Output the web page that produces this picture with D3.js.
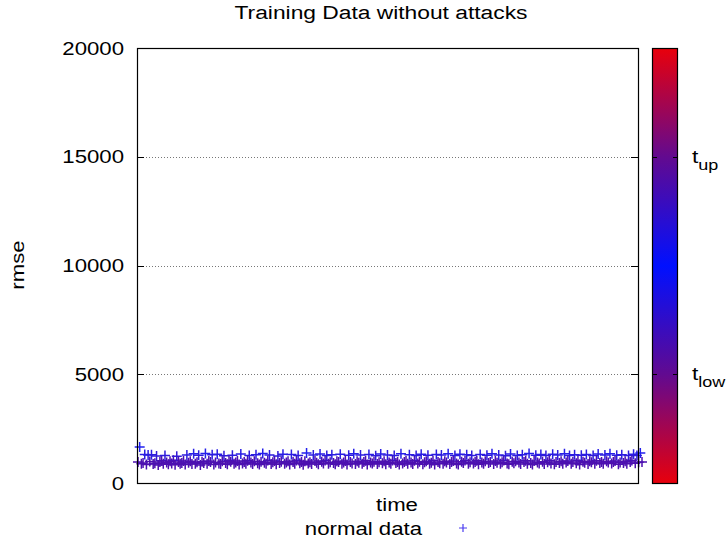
<!DOCTYPE html>
<html>
<head>
<meta charset="utf-8">
<script src="https://cdn.jsdelivr.net/npm/d3@7"></script>
<style>
  body { margin: 0; background: #fff; }
  text { font-family: "Liberation Sans", Arial, sans-serif; fill: #000; }
</style>
</head>
<body>
<div id="chart"></div>
<script>
// rmse values of the training data (one per time step)
var rmse = [
    960, 1650, 880, 920, 1310, 850, 1290, 990, 1300, 870, 910, 1240, 830, 960, 1020, 880, 1270, 940, 860, 1000,
    900, 1050, 840, 1230, 970, 880, 920, 1010, 850, 1290, 930, 1000, 870, 1340, 890, 950, 1280, 830, 980, 920,
    1360, 880, 1010, 960, 1300, 850, 940, 1320, 900, 870, 1000, 1250, 920, 860, 1030, 980, 1280, 880, 940, 1010,
    850, 1330, 900, 960, 880, 1020, 1270, 940, 870, 1000, 1300, 910, 850, 980, 1360, 930, 890, 1040, 1290, 870,
    950, 1010, 860, 1240, 920, 980, 1320, 890, 940, 1000, 850, 1310, 960, 880, 1030, 1270, 910, 970, 840, 1000,
    1380, 900, 950, 870, 1290, 1010, 930, 860, 1330, 980, 900, 1040, 1260, 880, 950, 1300, 920, 860, 1000, 970,
    1320, 890, 940, 1010, 850, 1280, 960, 900, 1350, 870, 1000, 930, 1290, 880, 960, 1020, 850, 1310, 940, 900,
    980, 1250, 870, 950, 1330, 910, 1000, 860, 1290, 940, 890, 1030, 1270, 920, 970, 850, 1340, 900, 960, 1010,
    880, 1300, 940, 870, 1020, 1260, 900, 980, 1320, 860, 950, 1000, 1280, 890, 930, 1040, 850, 1310, 970, 910,
    1290, 880, 1000, 940, 1350, 870, 960, 1010, 1270, 900, 850, 1320, 980, 920, 1030, 1300, 880, 950, 1260, 900,
    970, 1020, 860, 1310, 940, 890, 1000, 1280, 920, 960, 1340, 870, 1010, 930, 1290, 880, 950, 1030, 1250, 900,
    860, 1330, 980, 910, 1000, 1270, 940, 870, 1300, 960, 1020, 890, 1360, 920, 850, 1010, 1280, 940, 900, 1310,
    980, 870, 1260, 950, 1030, 900, 1320, 860, 970, 1290, 920, 1000, 880, 1340, 940, 1010, 1270, 890, 960, 1300,
    910, 1040, 850, 1280, 980, 930, 1310, 870, 1000, 950, 1260, 890, 1020, 1330, 920, 960, 880, 1290, 1000, 940,
    1350, 900, 970, 1010, 1280, 860, 940, 1300, 920, 1000, 880, 1270, 960, 1030, 1320, 910, 1260, 950, 1380, 960
];

var yTicks = [0, 5000, 10000, 15000, 20000];
var gridTicks = [5000, 10000, 15000];
var paletteStops = [0, 5000, 10000, 15000, 20000];
var thresholds = [
    {name: "t", sub: "up", value: 15000},
    {name: "t", sub: "low", value: 5000}
];

var width = 726;
var height = 545;
var plotLeft = 137, plotRight = 638, plotTop = 48, plotBottom = 483;
var sx = 1.2;   // text in the picture is drawn a bit wide

var svg = d3.select("#chart")
    .append("svg")
    .attr("width", width)
    .attr("height", height);

var x = d3.scaleLinear()
    .domain([0, rmse.length - 1])
    .range([plotLeft + 1, plotRight + 4]);

var y = d3.scaleLinear()
    .domain([0, 20000])
    .range([plotBottom, plotTop]);

var pointColor = d3.scaleLinear()
    .domain([1000, 1400])
    .range(["#4c10b0", "#2020f0"])
    .clamp(true);

var palette = d3.scaleLinear()
    .domain(paletteStops)
    .range(["#e8000c", "#620a90", "#0010ff", "#620a90", "#e8000c"]);

function label(txt, px, py, anchor, rot, size) {
    return svg.append("text")
        .attr("transform", "translate(" + px + "," + py + ")" + (rot ? " rotate(" + rot + ")" : "") + " scale(" + sx + ",1)")
        .attr("text-anchor", anchor)
        .attr("font-size", (size || 18.5) + "px")
        .text(txt);
}

// title
label("Training Data without attacks", 381, 19, "middle", 0, 19);

// grid
svg.selectAll("line.grid")
    .data(gridTicks)
    .enter()
    .append("line")
    .attr("class", "grid")
    .attr("x1", plotLeft)
    .attr("x2", plotRight)
    .attr("y1", function(d) { return Math.round(y(d)) + 0.5; })
    .attr("y2", function(d) { return Math.round(y(d)) + 0.5; })
    .attr("stroke", "#777")
    .attr("stroke-width", 1)
    .attr("stroke-dasharray", "1,2");

// y tick marks, mirrored on the right side
yTicks.forEach(function(d) {
    var yy = Math.round(y(d)) + 0.5;
    svg.append("line").attr("x1", plotLeft).attr("x2", plotLeft + 7).attr("y1", yy).attr("y2", yy).attr("stroke", "#000");
    svg.append("line").attr("x1", plotRight - 7).attr("x2", plotRight).attr("y1", yy).attr("y2", yy).attr("stroke", "#000");
    label(d, 124, y(d) + 6.5, "end");
});

// points
var pts = svg.append("g");
rmse.forEach(function(d, i) {
    var px = x(i), py = y(d), c = pointColor(d);
    pts.append("path")
        .attr("d", "M" + (px - 5) + "," + py + "H" + (px + 5) + "M" + px + "," + (py - 5) + "V" + (py + 5))
        .attr("stroke", c)
        .attr("stroke-width", 1.5)
        .attr("fill", "none");
});

// frame
svg.append("rect")
    .attr("x", plotLeft + 0.5)
    .attr("y", plotTop + 0.5)
    .attr("width", plotRight - plotLeft)
    .attr("height", plotBottom - plotTop)
    .attr("fill", "none")
    .attr("stroke", "#000")
    .attr("stroke-width", 1.2);

// colour box
var grad = svg.append("defs").append("linearGradient")
    .attr("id", "cb")
    .attr("x1", 0).attr("y1", 1).attr("x2", 0).attr("y2", 0);
d3.range(0, 20001, 1000).forEach(function(v) {
    grad.append("stop")
        .attr("offset", v / 20000)
        .attr("stop-color", palette(v));
});
svg.append("rect")
    .attr("x", 652.5)
    .attr("y", plotTop + 0.5)
    .attr("width", 25)
    .attr("height", plotBottom - plotTop)
    .attr("fill", "url(#cb)")
    .attr("stroke", "#000")
    .attr("stroke-width", 1.2);

thresholds.forEach(function(t) {
    var yy = Math.round(y(t.value)) + 0.5;
    svg.append("line").attr("x1", 652).attr("x2", 657).attr("y1", yy).attr("y2", yy).attr("stroke", "#000");
    svg.append("line").attr("x1", 673).attr("x2", 678).attr("y1", yy).attr("y2", yy).attr("stroke", "#000");
    var tx = svg.append("text")
        .attr("transform", "translate(692," + (yy + 5) + ") scale(" + sx + ",1)")
        .attr("font-size", "19px");
    tx.append("tspan").text(t.name);
    tx.append("tspan").attr("font-size", "15px").attr("dy", 7).text(t.sub);
});

// axis labels
label("rmse", 24, 265, "middle", -90);
label("time", 397, 511, "middle");

// key
label("normal data", 422, 535, "end");
svg.append("path")
    .attr("d", "M459,528H467M463,524V532")
    .attr("stroke", "#4a3cf0")
    .attr("stroke-width", 1.2);
</script>
</body>
</html>
